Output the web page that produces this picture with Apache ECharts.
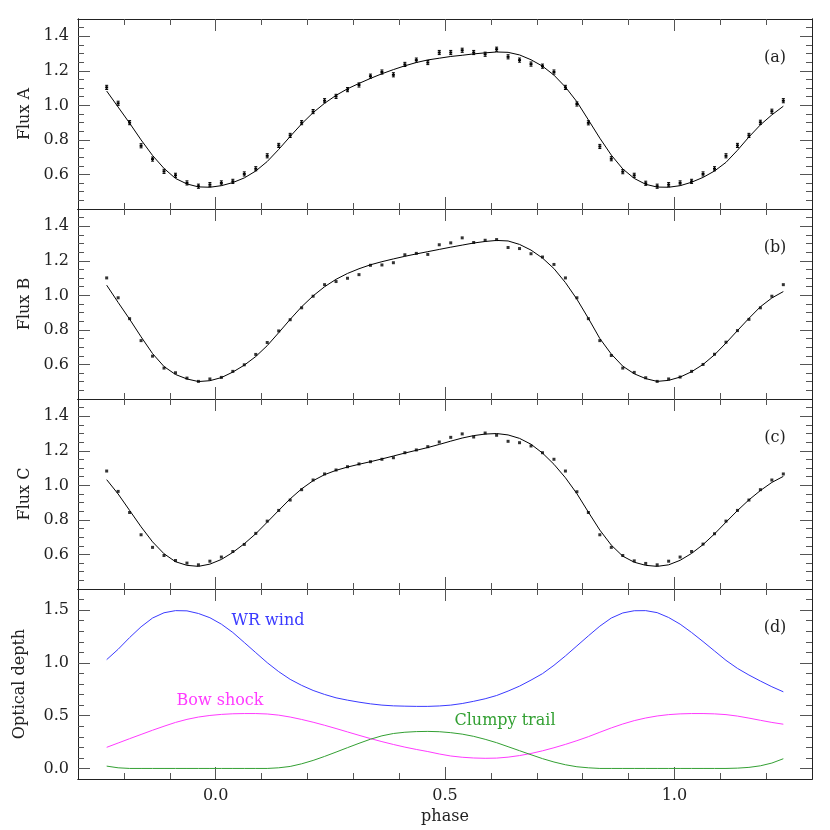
<!DOCTYPE html>
<html>
<head>
<meta charset="utf-8">
<script src="https://cdn.jsdelivr.net/npm/echarts@6/dist/echarts.min.js"></script>
<style>
  html, body { margin: 0; padding: 0; background: #fff; }
  #chart { width: 830px; height: 830px; }
</style>
</head>
<body>
<div id="chart"></div>
<script>
// phase bins (centres)
const phase = [-0.2375, -0.2125, -0.1875, -0.1625, -0.1375, -0.1125, -0.0875, -0.0625, -0.0375, -0.0125,
  0.0125, 0.0375, 0.0625, 0.0875, 0.1125, 0.1375, 0.1625, 0.1875, 0.2125, 0.2375,
  0.2625, 0.2875, 0.3125, 0.3375, 0.3625, 0.3875, 0.4125, 0.4375, 0.4625, 0.4875,
  0.5125, 0.5375, 0.5625, 0.5875, 0.6125, 0.6375, 0.6625, 0.6875, 0.7125, 0.7375,
  0.7625, 0.7875, 0.8125, 0.8375, 0.8625, 0.8875, 0.9125, 0.9375, 0.9625, 0.9875,
  1.0125, 1.0375, 1.0625, 1.0875, 1.1125, 1.1375, 1.1625, 1.1875, 1.2125, 1.2375];

// panel (a)
const fluxAObs = [1.104, 1.012, 0.900, 0.766, 0.689, 0.618, 0.595, 0.551, 0.532, 0.541,
  0.551, 0.560, 0.603, 0.633, 0.708, 0.768, 0.826, 0.900, 0.964, 1.027,
  1.052, 1.091, 1.118, 1.169, 1.193, 1.177, 1.237, 1.262, 1.248, 1.306,
  1.306, 1.319, 1.306, 1.296, 1.325, 1.281, 1.262, 1.239, 1.227, 1.193,
  1.104, 1.008, 0.899, 0.762, 0.691, 0.616, 0.595, 0.549, 0.532, 0.541,
  0.551, 0.560, 0.603, 0.633, 0.708, 0.768, 0.826, 0.902, 0.966, 1.027];
const fluxAErr = 0.012;
const fluxAFit = [1.083, 0.990, 0.897, 0.800, 0.710, 0.635, 0.577, 0.545, 0.528, 0.526,
  0.535, 0.553, 0.580, 0.620, 0.675, 0.745, 0.820, 0.893, 0.958, 1.012,
  1.058, 1.096, 1.127, 1.156, 1.183, 1.207, 1.229, 1.248, 1.263, 1.273,
  1.283, 1.290, 1.298, 1.304, 1.309, 1.307, 1.292, 1.264, 1.227, 1.175,
  1.106, 1.021, 0.916, 0.810, 0.712, 0.632, 0.577, 0.543, 0.527, 0.526,
  0.535, 0.555, 0.583, 0.620, 0.670, 0.740, 0.817, 0.887, 0.945, 0.995];

// panel (b)
const fluxBObs = [1.101, 0.986, 0.865, 0.738, 0.648, 0.579, 0.552, 0.521, 0.502, 0.516,
  0.525, 0.560, 0.598, 0.658, 0.727, 0.794, 0.859, 0.928, 0.995, 1.062,
  1.080, 1.099, 1.120, 1.174, 1.176, 1.189, 1.235, 1.243, 1.237, 1.293,
  1.304, 1.333, 1.306, 1.319, 1.323, 1.277, 1.271, 1.241, 1.222, 1.179,
  1.101, 0.986, 0.865, 0.738, 0.652, 0.579, 0.554, 0.523, 0.502, 0.516,
  0.527, 0.560, 0.600, 0.659, 0.729, 0.796, 0.861, 0.928, 0.995, 1.062];
const fluxBFit = [1.059, 0.959, 0.862, 0.760, 0.663, 0.588, 0.542, 0.516, 0.501, 0.506,
  0.524, 0.556, 0.596, 0.646, 0.709, 0.784, 0.861, 0.934, 0.997, 1.050,
  1.093, 1.127, 1.154, 1.177, 1.195, 1.211, 1.226, 1.240, 1.253, 1.266,
  1.279, 1.291, 1.303, 1.312, 1.318, 1.315, 1.295, 1.262, 1.216, 1.155,
  1.074, 0.978, 0.867, 0.750, 0.660, 0.590, 0.546, 0.518, 0.502, 0.508,
  0.527, 0.558, 0.600, 0.656, 0.724, 0.796, 0.867, 0.934, 0.985, 1.022];

// panel (c)
const fluxCObs = [1.083, 0.965, 0.843, 0.714, 0.641, 0.594, 0.565, 0.550, 0.540, 0.561,
  0.585, 0.617, 0.658, 0.722, 0.793, 0.855, 0.915, 0.975, 1.031, 1.066,
  1.089, 1.108, 1.124, 1.137, 1.151, 1.160, 1.189, 1.205, 1.224, 1.251,
  1.278, 1.298, 1.280, 1.303, 1.290, 1.255, 1.247, 1.228, 1.189, 1.151,
  1.083, 0.963, 0.843, 0.714, 0.641, 0.594, 0.563, 0.548, 0.540, 0.561,
  0.585, 0.617, 0.660, 0.720, 0.793, 0.855, 0.915, 0.975, 1.031, 1.066];
const fluxCFit = [1.033, 0.950, 0.855, 0.760, 0.673, 0.604, 0.558, 0.537, 0.531, 0.544,
  0.571, 0.612, 0.662, 0.720, 0.787, 0.855, 0.922, 0.980, 1.027, 1.062,
  1.087, 1.106, 1.122, 1.137, 1.153, 1.170, 1.187, 1.203, 1.219, 1.237,
  1.256, 1.274, 1.288, 1.297, 1.300, 1.292, 1.272, 1.238, 1.187, 1.122,
  1.044, 0.952, 0.845, 0.741, 0.654, 0.590, 0.555, 0.537, 0.531, 0.540,
  0.566, 0.606, 0.657, 0.719, 0.787, 0.854, 0.916, 0.970, 1.017, 1.052];

// panel (d) optical depths
const wrWind = [1.031, 1.129, 1.240, 1.342, 1.425, 1.475, 1.495, 1.493, 1.468, 1.428,
  1.367, 1.288, 1.193, 1.097, 1.002, 0.917, 0.844, 0.787, 0.739, 0.701,
  0.669, 0.647, 0.628, 0.612, 0.600, 0.593, 0.590, 0.588, 0.588, 0.592,
  0.600, 0.615, 0.636, 0.660, 0.691, 0.733, 0.780, 0.837, 0.898, 0.977,
  1.066, 1.161, 1.256, 1.348, 1.425, 1.473, 1.494, 1.495, 1.476, 1.430,
  1.367, 1.288, 1.202, 1.113, 1.024, 0.948, 0.885, 0.828, 0.774, 0.726];
const bowShock = [0.200, 0.241, 0.282, 0.322, 0.362, 0.400, 0.436, 0.465, 0.487, 0.502,
  0.512, 0.518, 0.520, 0.520, 0.516, 0.505, 0.487, 0.464, 0.438, 0.409,
  0.378, 0.346, 0.314, 0.283, 0.254, 0.227, 0.202, 0.180, 0.160, 0.137,
  0.118, 0.106, 0.099, 0.096, 0.098, 0.107, 0.122, 0.142, 0.167, 0.196,
  0.228, 0.263, 0.301, 0.343, 0.384, 0.421, 0.453, 0.478, 0.497, 0.510,
  0.517, 0.520, 0.520, 0.517, 0.510, 0.496, 0.477, 0.456, 0.436, 0.419];
const clumpyTrail = [0.022, 0.006, 0.000, 0.000, 0.000, 0.000, 0.000, 0.000, 0.000, 0.000,
  0.000, 0.000, 0.000, 0.000, 0.000, 0.006, 0.019, 0.044, 0.076, 0.114,
  0.155, 0.197, 0.238, 0.277, 0.309, 0.331, 0.343, 0.349, 0.351, 0.348,
  0.339, 0.325, 0.304, 0.276, 0.244, 0.206, 0.168, 0.130, 0.093, 0.061,
  0.035, 0.016, 0.006, 0.000, 0.000, 0.000, 0.000, 0.000, 0.000, 0.000,
  0.000, 0.000, 0.000, 0.000, 0.000, 0.003, 0.010, 0.025, 0.051, 0.092];

// ticks
const xMinorTicks = [-0.2, -0.1, 0.1, 0.2, 0.3, 0.4, 0.6, 0.7, 0.8, 0.9, 1.1, 1.2];
const xMajorTicks = [0.0, 0.5, 1.0];
const fluxMinorTicks = [0.45, 0.5, 0.55, 0.65, 0.7, 0.75, 0.85, 0.9, 0.95, 1.05, 1.1, 1.15, 1.25, 1.3, 1.35, 1.45];
const fluxMajorTicks = [0.6, 0.8, 1.0, 1.2, 1.4];
const depthMinorTicks = [0.1, 0.2, 0.3, 0.4, 0.6, 0.7, 0.8, 0.9, 1.1, 1.2, 1.3, 1.4, 1.6];
const depthMajorTicks = [0.0, 0.5, 1.0, 1.5];

const FONT = 'DejaVu Serif';
const INK = '#222';
const TICK = '#555';
const BLUE = '#3a3aff';
const MAGENTA = '#ff3aff';
const GREEN = '#33a033';

const chart = echarts.init(document.getElementById('chart'));

const tops = [19, 209, 399, 589];
const grids = tops.map(t => ({ left: 78, width: 734, top: t, height: 190 }));

function axis(gi, pos, min, max, ticks, len, extra) {
  return Object.assign({
    type: 'value', gridIndex: gi, position: pos, min: min, max: max,
    axisLine: { show: true, onZero: false, lineStyle: { color: INK, width: 1 } },
    axisTick: { show: true, inside: true, length: len, customValues: ticks, lineStyle: { color: TICK, width: 1 } },
    axisLabel: { show: false },
    splitLine: { show: false }
  }, extra || {});
}

const labelStyle = { fontFamily: FONT, fontSize: 16, color: INK };

const xAxis = [];
const yAxis = [];
const yNames = ['Flux A', 'Flux B', 'Flux C', 'Optical depth'];
for (let g = 0; g < 4; g++) {
  const last = g === 3;
  xAxis.push(axis(g, 'bottom', -0.3, 1.3, xMinorTicks, 6));
  xAxis.push(axis(g, 'bottom', -0.3, 1.3, xMajorTicks, 12, last ? {
    axisLabel: Object.assign({ show: true, margin: 9, customValues: xMajorTicks, formatter: v => v.toFixed(1) }, labelStyle),
    name: 'phase', nameLocation: 'middle', nameGap: 30, nameTextStyle: labelStyle
  } : {}));
  xAxis.push(axis(g, 'top', -0.3, 1.3, xMinorTicks, 6));
  xAxis.push(axis(g, 'top', -0.3, 1.3, xMajorTicks, 12));

  const ymin = last ? -0.1 : 0.4;
  const ymax = last ? 1.7 : 1.5;
  const minor = last ? depthMinorTicks : fluxMinorTicks;
  const major = last ? depthMajorTicks : fluxMajorTicks;
  yAxis.push(axis(g, 'left', ymin, ymax, minor, 6));
  yAxis.push(axis(g, 'left', ymin, ymax, major, 12, {
    axisLabel: Object.assign({ show: true, margin: 9, customValues: major, formatter: v => v.toFixed(1) }, labelStyle),
    name: yNames[g], nameLocation: 'middle', nameRotate: 90, nameGap: last ? 50 : 44, nameTextStyle: labelStyle
  }));
  yAxis.push(axis(g, 'right', ymin, ymax, minor, 6));
  yAxis.push(axis(g, 'right', ymin, ymax, major, 12));
}

function pairs(ys) {
  return phase.map((p, i) => [p, ys[i]]);
}

function curve(g, ys, color) {
  return {
    type: 'line', xAxisIndex: 4 * g, yAxisIndex: 4 * g, data: pairs(ys),
    showSymbol: false, smooth: false, silent: true,
    lineStyle: { color: color, width: 1 }
  };
}

function dots(g, ys) {
  return {
    type: 'scatter', xAxisIndex: 4 * g, yAxisIndex: 4 * g, data: pairs(ys),
    symbol: 'rect', symbolSize: 3, silent: true,
    itemStyle: { color: '#000' }
  };
}

const errorBars = {
  type: 'custom', xAxisIndex: 0, yAxisIndex: 0, silent: true,
  data: phase.map((p, i) => [p, fluxAObs[i], fluxAErr]),
  encode: { x: 0, y: 1 },
  renderItem: function (params, api) {
    const x = api.value(0), y = api.value(1), e = api.value(2);
    const hi = api.coord([x, y + e]);
    const lo = api.coord([x, y - e]);
    const mid = api.coord([x, y]);
    const st = { stroke: '#000', lineWidth: 1 };
    return {
      type: 'group',
      children: [
        { type: 'line', shape: { x1: hi[0], y1: hi[1], x2: lo[0], y2: lo[1] }, style: st },
        { type: 'line', shape: { x1: hi[0] - 1.5, y1: hi[1], x2: hi[0] + 1.5, y2: hi[1] }, style: st },
        { type: 'line', shape: { x1: lo[0] - 1.5, y1: lo[1], x2: lo[0] + 1.5, y2: lo[1] }, style: st },
        { type: 'rect', shape: { x: mid[0] - 1.5, y: mid[1] - 1, width: 3, height: 2 }, style: { fill: '#000' } }
      ]
    };
  }
};

function txt(x, y, text, color) {
  return {
    type: 'text', x: x, y: y, silent: true,
    style: { text: text, fill: color, fontFamily: FONT, fontSize: 16, align: 'center', verticalAlign: 'middle' }
  };
}

chart.setOption({
  backgroundColor: '#fff',
  animation: false,
  grid: grids,
  xAxis: xAxis,
  yAxis: yAxis,
  series: [
    errorBars,
    curve(0, fluxAFit, '#000'),
    dots(1, fluxBObs),
    curve(1, fluxBFit, '#000'),
    dots(2, fluxCObs),
    curve(2, fluxCFit, '#000'),
    curve(3, wrWind, BLUE),
    curve(3, bowShock, MAGENTA),
    curve(3, clumpyTrail, GREEN)
  ],
  graphic: [
    txt(775, 58, '(a)', INK),
    txt(775, 248, '(b)', INK),
    txt(775, 438, '(c)', INK),
    txt(775, 628, '(d)', INK),
    txt(268, 621, 'WR wind', BLUE),
    txt(220, 701, 'Bow shock', MAGENTA),
    txt(505, 721, 'Clumpy trail', GREEN)
  ]
});
</script>
</body>
</html>
